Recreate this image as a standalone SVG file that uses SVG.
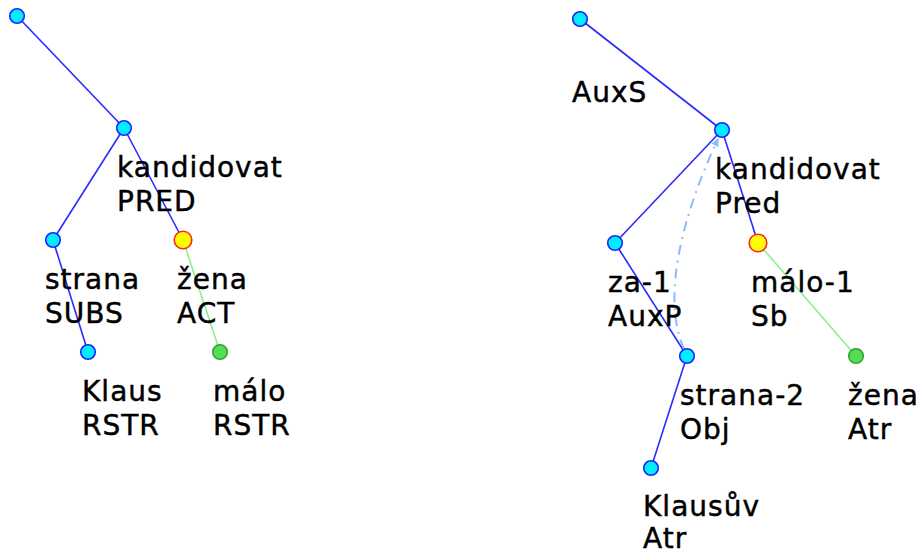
<svg xmlns="http://www.w3.org/2000/svg" width="921" height="556" viewBox="0 0 921 556">
<style>
.e{stroke:#2a2aff;stroke-width:1.6;fill:none}
.g{stroke:#88ee88;stroke-width:1.5;fill:none}
.c{fill:#00eeff;stroke:#2222ff;stroke-width:1.6}
.y{fill:#ffff00;stroke:#ff2222;stroke-width:1.6}
.n{fill:#55dd55;stroke:#2f9f2f;stroke-width:1.5}
text{font-family:"DejaVu Sans",sans-serif;font-size:28px;fill:#000;stroke:#000;stroke-width:0.45;letter-spacing:1px}
</style>
<defs>
<marker id="ah" viewBox="0 0 10 10" refX="9" refY="5" markerWidth="8" markerHeight="8" orient="auto" markerUnits="userSpaceOnUse">
<path d="M0,0 L10,5 L0,10 z" fill="#88bbff"/>
</marker>
</defs>
<g id="connectors">
<line class="e" x1="17" y1="16" x2="124" y2="128"/>
<line class="e" x1="124" y1="128" x2="53" y2="240"/>
<line class="e" x1="124" y1="128" x2="183" y2="240"/>
<line class="e" x1="53" y1="240" x2="88" y2="352"/>
<line class="g" x1="183" y1="240" x2="220" y2="352"/>
<line class="e" x1="580" y1="19" x2="722" y2="130"/>
<line class="e" x1="722" y1="130" x2="615" y2="243"/>
<line class="e" x1="722" y1="130" x2="758" y2="243"/>
<line class="e" x1="615" y1="243" x2="687" y2="356"/>
<line class="e" x1="687" y1="356" x2="651" y2="468"/>
<line class="g" x1="758" y1="243" x2="856" y2="356"/>
<path d="M684,349 C662,300 680,220 718,139" stroke="#88bbff" stroke-width="2" fill="none" stroke-dasharray="10,6,2,6" marker-end="url(#ah)"/>
</g>
<g id="l-root"><circle class="c" cx="17" cy="16" r="7.3"/></g>
<g id="l-kandidovat"><circle class="c" cx="124" cy="128" r="7.3"/><text x="117" y="177">kandidovat</text><text x="117" y="211">PRED</text></g>
<g id="l-strana"><circle class="c" cx="53" cy="240" r="7.3"/><text x="45" y="289">strana</text><text x="45" y="323">SUBS</text></g>
<g id="l-zena"><circle class="y" cx="183" cy="240" r="8.8"/><text x="177" y="289">žena</text><text x="177" y="323">ACT</text></g>
<g id="l-klaus"><circle class="c" cx="88" cy="352" r="7.3"/><text x="82" y="401">Klaus</text><text x="82" y="435">RSTR</text></g>
<g id="l-malo"><circle class="n" cx="220" cy="352" r="7.3"/><text x="213" y="401">málo</text><text x="213" y="435">RSTR</text></g>
<g id="r-root"><circle class="c" cx="580" cy="19" r="7.3"/><text x="572" y="102">AuxS</text></g>
<g id="r-kandidovat"><circle class="c" cx="722" cy="130" r="7.3"/><text x="715" y="179">kandidovat</text><text x="715" y="213">Pred</text></g>
<g id="r-za"><circle class="c" cx="615" cy="243" r="7.3"/><text x="608" y="292">za-1</text><text x="608" y="326">AuxP</text></g>
<g id="r-malo"><circle class="y" cx="758" cy="243" r="8.8"/><text x="751" y="292">málo-1</text><text x="751" y="326">Sb</text></g>
<g id="r-strana"><circle class="c" cx="687" cy="356" r="7.3"/><text x="680" y="405">strana-2</text><text x="680" y="439">Obj</text></g>
<g id="r-zena"><circle class="n" cx="856" cy="356" r="7.3"/><text x="848" y="405">žena</text><text x="848" y="439">Atr</text></g>
<g id="r-klausuv"><circle class="c" cx="651" cy="468" r="7.3"/><text x="643" y="516">Klausův</text><text x="643" y="548">Atr</text></g>
</svg>
